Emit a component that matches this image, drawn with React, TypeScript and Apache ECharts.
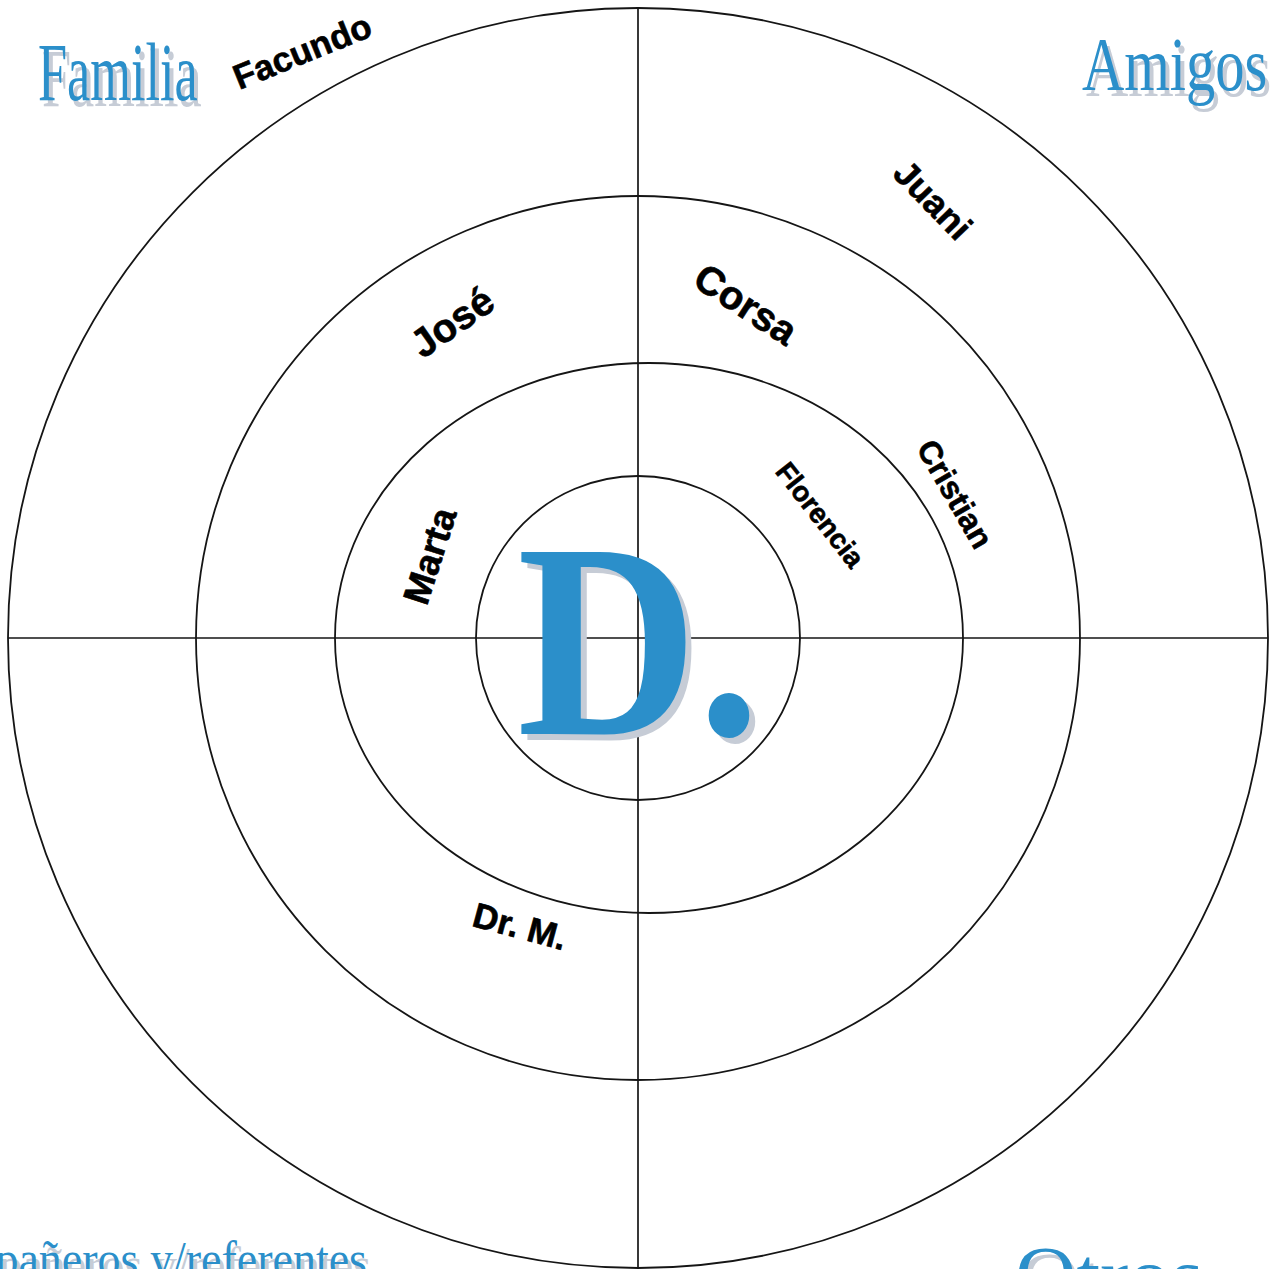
import React, { useEffect, useRef } from "react";
import * as echarts from "echarts";

// ---- data ----
const ringRadiusX = [162, 314, 442, 630];
const ringRadiusY = [162, 275, 442, 630];
const ringOffsetX = [0, 11, 0, 0];

const personNames = ["Facundo", "Juani", "José", "Corsa", "Marta", "Florencia", "Cristian", "Dr. M."];
const personX = [-336, 295, -186, 108, -208, 182, 317, -118];
const personY = [587, 438, 316, 334, 82, 123, 144, -288];
const personTilt = [22, -46, 35, -33, 72, -52, -60, -15];

const groupNames = ["Familia", "Amigos", "Compañeros y/referentes", "Otros"];
const centerLabel = "D.";

// ---- layout / styles ----
const W = 1276;
const H = 1269;
const CX = 638;
const CY = 638;
const personFont = [35, 36, 40, 40, 37, 28, 32, 35];
const groupLayout = [
  { x: 38, y: 72, size: 83, scaleX: 0.63, align: "left" },
  { x: 1082, y: 65, size: 76, scaleX: 0.77, align: "left" },
  { x: 367, y: 1259, size: 50, scaleX: 0.92, align: "right" },
  { x: 1015, y: 1276, size: 85, scaleX: 1, align: "left" },
];
const BLUE = "#2b8fca";
const SHADOW = "#c6ccd6";
const INK = "#151515";
const SERIF = "'Liberation Serif', 'Times New Roman', serif";
const SANS = "'Liberation Sans', Arial, sans-serif";

const toChart = (px: number, py: number) => [px - CX, CY - py];

export default function App() {
  const ref = useRef<HTMLDivElement>(null);

  useEffect(() => {
    if (!ref.current) return;
    const chart = echarts.init(ref.current, null, { renderer: "svg" });
    const outer = ringRadiusX[ringRadiusX.length - 1];

    const option: any = {
      animation: false,
      backgroundColor: "#ffffff",
      grid: { left: 0, right: 0, top: 0, bottom: 0 },
      xAxis: { type: "value", min: -CX, max: W - CX, show: false },
      yAxis: { type: "value", min: CY - H, max: CY, show: false },
      series: [
        {
          type: "custom",
          silent: true,
          data: ringRadiusX.map((rx, i) => [ringOffsetX[i], 0, rx, ringRadiusY[i]]),
          renderItem: (_p: any, api: any) => {
            const c = api.coord([api.value(0), api.value(1)]);
            const s = api.size([api.value(2), api.value(3)]);
            return {
              type: "ellipse",
              shape: { cx: c[0], cy: c[1], rx: s[0], ry: s[1] },
              style: { fill: "none", stroke: INK, lineWidth: 1.8 },
            };
          },
        },
        {
          type: "custom",
          silent: true,
          data: [
            [0, outer, 0, CY - H],
            [-outer, 0, outer, 0],
          ],
          renderItem: (_p: any, api: any) => {
            const a = api.coord([api.value(0), api.value(1)]);
            const b = api.coord([api.value(2), api.value(3)]);
            return {
              type: "line",
              shape: { x1: a[0], y1: a[1], x2: b[0], y2: b[1] },
              style: { stroke: INK, lineWidth: 1.7 },
            };
          },
        },
        {
          type: "custom",
          silent: true,
          data: personNames.map((_n, i) => [personX[i], personY[i], personTilt[i]]),
          renderItem: (p: any, api: any) => {
            const i = p.dataIndex;
            const c = api.coord([api.value(0), api.value(1)]);
            return {
              type: "text",
              x: c[0],
              y: c[1],
              rotation: (api.value(2) * Math.PI) / 180,
              style: {
                text: personNames[i],
                fill: "#000",
                stroke: "#000",
                lineWidth: 0.6,
                fontSize: personFont[i],
                fontWeight: "bold",
                fontFamily: SANS,
                align: "center",
                verticalAlign: "middle",
              },
            };
          },
        },
        {
          type: "custom",
          silent: true,
          data: groupLayout.map((g) => toChart(g.x, g.y)),
          renderItem: (p: any, api: any) => {
            const i = p.dataIndex;
            const g = groupLayout[i];
            const c = api.coord([api.value(0), api.value(1)]);
            const mk = (dx: number, dy: number, fill: string) => ({
              type: "text",
              x: c[0] + dx,
              y: c[1] + dy,
              scaleX: g.scaleX,
              style: {
                text: groupNames[i],
                fill,
                fontSize: g.size,
                fontFamily: SERIF,
                align: g.align,
                verticalAlign: "middle",
              },
            });
            return { type: "group", children: [mk(4, 6, SHADOW), mk(0, 0, BLUE)] };
          },
        },
        {
          type: "custom",
          silent: true,
          data: [toChart(517, 640)],
          renderItem: (_p: any, api: any) => {
            const c = api.coord([api.value(0), api.value(1)]);
            const mk = (dx: number, dy: number, fill: string) => ({
              type: "text",
              x: c[0] + dx,
              y: c[1] + dy,
              scaleX: 0.9,
              style: {
                text: centerLabel,
                fill,
                fontSize: 278,
                fontWeight: "bold",
                fontFamily: SERIF,
                align: "left",
                verticalAlign: "middle",
              },
            });
            return { type: "group", children: [mk(6, 6, SHADOW), mk(0, 0, BLUE)] };
          },
        },
      ],
    };
    chart.setOption(option);
    return () => chart.dispose();
  }, []);

  return (
    <div
      ref={ref}
      style={{ position: "absolute", left: 0, top: 0, width: W, height: H, background: "#fff" }}
    />
  );
}
